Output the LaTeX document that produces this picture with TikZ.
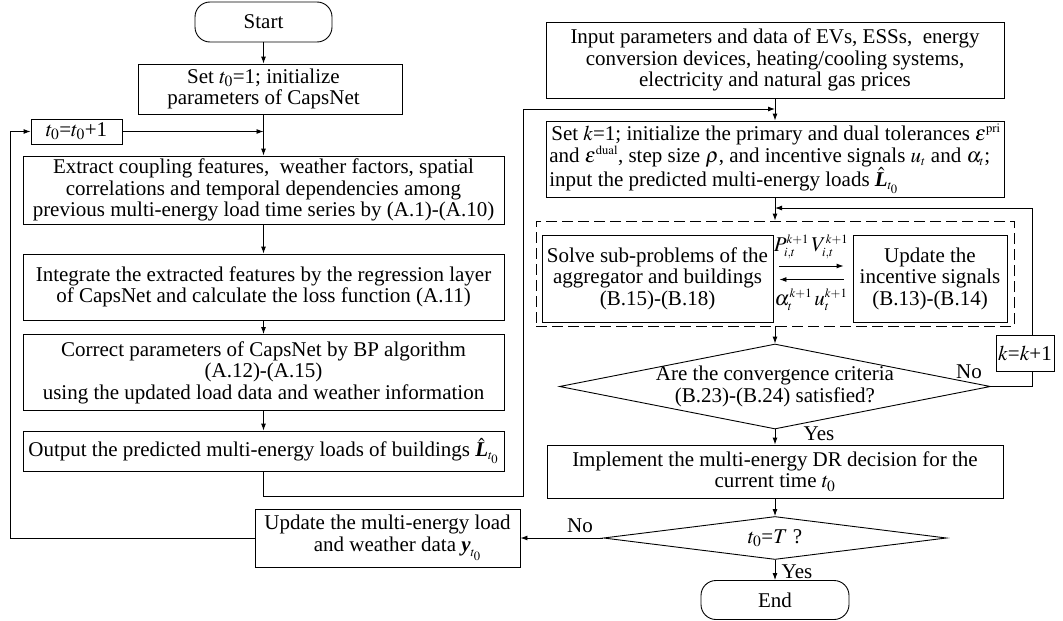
\documentclass[tikz,border=0pt]{standalone}
\usepackage{mathptmx}
\usepackage{fontspec}
\setmainfont{Liberation Serif}
\usetikzlibrary{arrows.meta,shapes.geometric}
\newcommand{\bLhat}{\hat{\mbox{\bfseries\itshape L}}}
\newcommand{\tsp}[1]{^{\scriptscriptstyle #1}}
\newcommand{\tsb}[1]{_{\scriptscriptstyle #1}}
\begin{document}
\begin{tikzpicture}[x=1pt,y=-1pt,
  font=\fontsize{21pt}{21.5pt}\selectfont,
  line width=0.9pt,
  box/.style={draw, rectangle, inner sep=0pt, align=center},
  term/.style={draw, rectangle, rounded corners=15pt, inner sep=0pt},
  dia/.style={draw, diamond, inner sep=0pt},
  dbox/.style={draw, rectangle, inner sep=0pt, dash pattern=on 11pt off 5pt},
  arr/.style={-{Latex[length=7pt,width=5pt]}},
  lbl/.style={inner sep=0pt}]
\useasboundingbox (0,0) rectangle (1063,621);

% ---------- left column ----------
\node[term, minimum width=137pt, minimum height=40pt] (start) at (263.5,22) {Start};
\node[box, minimum width=264pt, minimum height=50pt] (set0) at (270.5,89) {\hspace*{-14pt}Set $t_0$=1; initialize\\\hspace*{-14pt}parameters of CapsNet};
\node[box, minimum width=91pt, minimum height=25pt] (tinc) at (76.5,131.5) {$t_0$=$t_0$+1};
\node[box, minimum width=481pt, minimum height=68pt] (extract) at (263.5,190) {Extract coupling features,\ \ weather factors, spatial\\correlations and temporal dependencies among\\previous multi-energy load time series by (A.1)-(A.10)};
\node[box, minimum width=481pt, minimum height=66pt] (integ) at (263.5,287) {Integrate the extracted features by the regression layer\\of CapsNet and calculate the loss function (A.11)};
\node[box, minimum width=481pt, minimum height=76pt] (correct) at (263.5,372.5) {Correct parameters of CapsNet by BP algorithm\\(A.12)-(A.15)\\using the updated load data and weather information};
\node[box, minimum width=481pt, minimum height=40pt] (output) at (263.5,451) {Output the predicted multi-energy loads of buildings $\bLhat\tsb{t_0}$};
\node[box, minimum width=265pt, minimum height=58pt] (update) at (387.5,538) {Update the multi-energy load\\\hspace*{20pt}and weather data $\mbox{\bfseries\itshape y}\tsb{t_0}$};

% ---------- right column ----------
\node[box, minimum width=458pt, minimum height=76pt] (input) at (775,60) {Input parameters and data of EVs, ESSs,\ \ energy\\conversion devices, heating/cooling systems,\\electricity and natural gas prices};
\node[box, align=left, minimum width=458pt, minimum height=76pt] (setk) at (775,159) {\hspace*{2pt}Set $k$=1; initialize the primary and dual tolerances $\varepsilon\tsp{\mathrm{pri}}$\\and $\varepsilon\tsp{\mathrm{dual}}$, step size $\rho$, and incentive signals $u\tsb{t}$ and $\alpha\tsb{t}$;\\input the predicted multi-energy loads $\bLhat\tsb{t_0}$};
\node[dbox, minimum width=478pt, minimum height=105pt] (dash) at (775,273.5) {};
\node[box, minimum width=231pt, minimum height=87pt] (solve) at (657.5,278.5) {Solve sub-problems of the\\aggregator and buildings\\(B.15)-(B.18)};
\node[box, minimum width=154pt, minimum height=87pt] (updinc) at (930,278.5) {Update the\\incentive signals\\(B.13)-(B.14)};
\node[lbl] (pv) at (811,247) {$P\tsp{k+1}\tsb{i,t}\,V\tsp{k+1}\tsb{i,t}$};
\node[lbl] (au) at (811,300) {$\alpha\tsp{k+1}\tsb{t}\,u\tsp{k+1}\tsb{t}$};
\node[dia, minimum width=431pt, minimum height=85pt] (conv) at (775,386.5) {};
\node[lbl, align=center] (convt) at (775,386.5) {Are the convergence criteria\\(B.23)-(B.24) satisfied?};
\node[box, minimum width=58pt, minimum height=36pt] (kinc) at (1025,353) {$k$=$k$+1};
\node[box, minimum width=456pt, minimum height=53pt] (impl) at (775,471.5) {Implement the multi-energy DR decision for the\\current time $t_0$};
\node[dia, minimum width=343pt, minimum height=43pt] (tT) at (775,538) {};
\node[lbl] (tTt) at (775,538) {$t_0$=$T$ ?};
\node[term, minimum width=148pt, minimum height=39pt] (end) at (775,600) {End};

% ---------- labels ----------
\node[lbl] (yes1) at (819,434) {Yes};
\node[lbl] (no1) at (969,372) {No};
\node[lbl] (no2) at (580,526) {No};
\node[lbl] (yes2) at (797,572) {Yes};

% ---------- connectors ----------
\coordinate (c1) at (523,496);
\coordinate (c2) at (523,109);
\coordinate (kx) at (1032,0);
\coordinate (m1) at (775,208);
\coordinate (lx) at (10,0);

\draw[arr] (start.south) -- (set0.north -| start.south);
\draw[arr] (set0.south -| start.south) -- (extract.north);
\draw[arr] (tinc.east) -- (tinc.east -| extract.north);
\draw[arr] (extract) -- (integ);
\draw[arr] (integ) -- (correct);
\draw[arr] (correct) -- (output);
\draw[arr] (output.south) |- (c1) -- (c2) -- (c2 -| input.south);
\draw[arr] (input) -- (setk);
\draw[arr] (setk) -- (dash);
\draw[arr] ([xshift=6pt,yshift=12.5pt]solve.east) -- ([xshift=-9pt,yshift=12.5pt]updinc.west);
\draw[arr] ([xshift=-9pt,yshift=-1pt]updinc.west) -- ([xshift=6pt,yshift=-1pt]solve.east);
\draw[arr] (dash) -- (conv);
\draw (conv.east) -| (kinc.south -| kx);
\draw[arr] (kinc.north -| kx) |- (m1);
\draw[arr] (conv) -- (impl);
\draw[arr] (impl) -- (tT);
\draw[arr] (tT.west) -- (update.east);
\draw[arr] (update.west) -| (lx |- tinc.west) -- (tinc.west);
\draw[arr] (tT) -- (end);
\end{tikzpicture}
\end{document}
